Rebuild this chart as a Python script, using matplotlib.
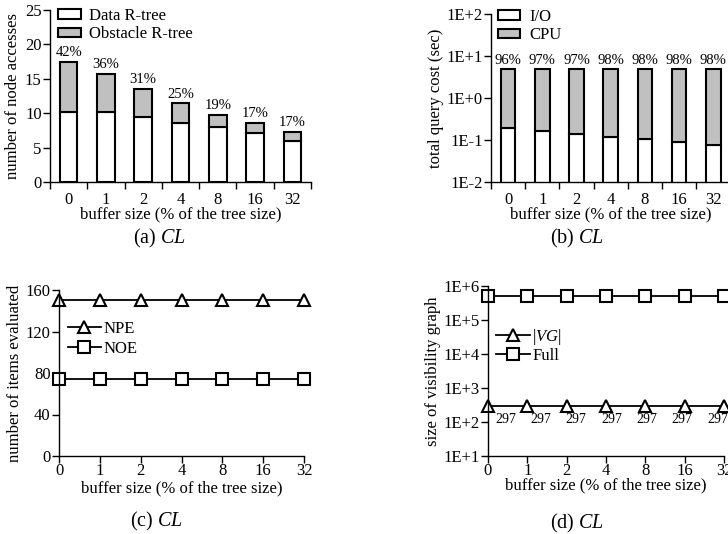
import matplotlib
matplotlib.use("Agg")
import matplotlib.pyplot as plt
import numpy as np

plt.rcParams['font.family'] = ['Liberation Serif', 'DejaVu Serif']
plt.rcParams['mathtext.fontset'] = 'custom'
plt.rcParams['mathtext.rm'] = 'Liberation Serif'
plt.rcParams['mathtext.it'] = 'Liberation Serif:italic'
plt.rcParams['axes.linewidth'] = 1.0

# ---- data ----
buffer_labels = ["0", "1", "2", "4", "8", "16", "32"]

# (a) node accesses
data_rtree = [10.16, 10.16, 9.43, 8.56, 8.03, 7.11, 5.89]
total_node = [17.5, 15.77, 13.54, 11.41, 9.77, 8.56, 7.34]
obst_pct = ["42%", "36%", "31%", "25%", "19%", "17%", "17%"]

# (b) total query cost (sec)
io_cost = [0.189, 0.163, 0.140, 0.119, 0.103, 0.089, 0.077]
total_cost = [5.0, 5.0, 5.0, 5.0, 5.0, 5.0, 5.0]
cpu_pct = ["96%", "97%", "97%", "98%", "98%", "98%", "98%"]

# (c) items evaluated
npe = [150, 150, 150, 150, 150, 150, 150]
noe = [74, 74, 74, 74, 74, 74, 74]

# (d) visibility graph size
vg_size = [297, 297, 297, 297, 297, 297, 297]
full_size = [5.1e5, 5.1e5, 5.1e5, 5.1e5, 5.1e5, 5.1e5, 5.1e5]

W, H = 728, 534
fig = plt.figure(figsize=(W / 100, H / 100), dpi=100)

def axes_px(l, t, r, b):
    return fig.add_axes([l / W, 1 - b / H, (r - l) / W, (b - t) / H])

FS = 12
GRAY = '#c0c0c0'
x = np.arange(len(buffer_labels))

def bar_axis_style(ax):
    ax.spines['top'].set_visible(False)
    ax.spines['right'].set_visible(False)
    ax.set_xlim(-0.5, len(buffer_labels) - 0.5)
    ax.set_xticks(x)
    ax.set_xticklabels(buffer_labels, fontsize=FS)
    ax.tick_params(axis='x', which='major', length=0, pad=7)
    ax.set_xticks(np.arange(-0.5, len(buffer_labels) + 0.5, 1), minor=True)
    ax.tick_params(axis='x', which='minor', length=5, direction='out', width=1)
    ax.tick_params(axis='y', which='major', length=5, direction='out', width=1, labelsize=FS, pad=1)
    ax.set_xlabel("buffer size (% of the tree size)", fontsize=FS, labelpad=-1)

# ---- (a) ----
ax1 = axes_px(50, 10, 311, 182)
obst = [t - d for t, d in zip(total_node, data_rtree)]
ax1.bar(x, data_rtree, width=0.47, color='white', edgecolor='black', linewidth=1.5, label='Data R-tree')
ax1.bar(x, obst, width=0.47, bottom=data_rtree, color=GRAY, edgecolor='black', linewidth=1.5, label='Obstacle R-tree')
for xi, t, lab in zip(x, total_node, obst_pct):
    ax1.annotate(lab, (xi, t), xytext=(0, 2), textcoords='offset points', ha='center', va='bottom', fontsize=10.5)
ax1.set_ylim(0, 25)
ax1.set_yticks([0, 5, 10, 15, 20, 25])
bar_axis_style(ax1)
ax1.set_ylabel("number of node accesses", fontsize=FS, labelpad=3)
ax1.legend(loc='upper left', bbox_to_anchor=(0.03, 1.012), frameon=False, fontsize=FS,
           handlelength=1.4, handleheight=0.5, labelspacing=0.15, handletextpad=0.5,
           borderpad=0, borderaxespad=0)

# ---- (b) ----
ax2 = axes_px(491, 14, 730.4, 182)
cpu = [t - i for t, i in zip(total_cost, io_cost)]
ax2.set_yscale('log')
ax2.bar(x, io_cost, width=0.43, color='white', edgecolor='black', linewidth=1.5, label='I/O')
ax2.bar(x, cpu, width=0.43, bottom=io_cost, color=GRAY, edgecolor='black', linewidth=1.5, label='CPU')
for xi, t, lab in zip(x, total_cost, cpu_pct):
    ax2.annotate(lab, (xi, t), xytext=(0, 1.5), textcoords='offset points', ha='center', va='bottom', fontsize=10.5)
ax2.set_ylim(1e-2, 1e2)
ax2.set_yticks([1e-2, 1e-1, 1e0, 1e1, 1e2])
ax2.set_yticklabels(["1E-2", "1E-1", "1E+0", "1E+1", "1E+2"])
ax2.yaxis.set_minor_locator(matplotlib.ticker.NullLocator())
bar_axis_style(ax2)
ax2.set_ylabel("total query cost (sec)", fontsize=FS, labelpad=2)
ax2.legend(loc='upper left', bbox_to_anchor=(0.03, 1.03), frameon=False, fontsize=FS,
           handlelength=1.3, handleheight=0.5, labelspacing=0.15, handletextpad=0.6,
           borderpad=0, borderaxespad=0)

def line_axis_style(ax, lpad):
    ax.spines['top'].set_visible(False)
    ax.spines['right'].set_visible(False)
    ax.set_xlim(0, len(buffer_labels) - 1)
    ax.set_xticks(x)
    ax.set_xticklabels(buffer_labels, fontsize=FS)
    ax.tick_params(axis='x', which='major', length=5, direction='out', width=1, pad=0)
    ax.tick_params(axis='y', which='major', length=5, direction='out', width=1, labelsize=FS, pad=1)
    ax.set_xlabel("buffer size (% of the tree size)", fontsize=FS, labelpad=lpad)

mk = dict(color='black', linewidth=1.3, markersize=9, markerfacecolor='white',
          markeredgecolor='black', markeredgewidth=1.5, clip_on=False)

# ---- (c) ----
ax3 = axes_px(59, 290, 304, 456)
ax3.plot(x, npe, marker='^', label='NPE', **mk)
ax3.plot(x, noe, marker='s', label='NOE', **mk)
ax3.set_ylim(0, 160)
ax3.set_yticks([0, 40, 80, 120, 160])
line_axis_style(ax3, 1)
ax3.set_ylabel("number of items evaluated", fontsize=FS, labelpad=2)
ax3.legend(loc='upper left', bbox_to_anchor=(0.035, 0.812), frameon=False, fontsize=FS,
           handlelength=2.0, labelspacing=0.2, handletextpad=0.15,
           borderpad=0, borderaxespad=0)

# ---- (d) ----
ax4 = axes_px(488, 286, 724, 456)
ax4.set_yscale('log')
ax4.plot(x, vg_size, marker='^', label=r'|$\mathit{VG}$|', **mk)
ax4.plot(x, full_size, marker='s', label='Full', **mk)
# value labels sit on an evenly spaced row slightly narrower than the point spacing
label_step = 35.3 / (236 / 6)
for i, v in enumerate(vg_size):
    ax4.annotate(str(v), ((i + 0.5) * label_step, v), xytext=(0, -10), textcoords='offset points',
                 ha='center', va='center', fontsize=10, annotation_clip=False)
ax4.set_ylim(1e1, 1e6)
ax4.set_yticks([1e1, 1e2, 1e3, 1e4, 1e5, 1e6])
ax4.set_yticklabels(["1E+1", "1E+2", "1E+3", "1E+4", "1E+5", "1E+6"])
ax4.yaxis.set_minor_locator(matplotlib.ticker.NullLocator())
line_axis_style(ax4, -1)
ax4.set_ylabel("size of visibility graph", fontsize=FS, labelpad=2)
ax4.legend(loc='upper left', bbox_to_anchor=(0.035, 0.76), frameon=False, fontsize=FS,
           handlelength=2.0, labelspacing=0.08, handletextpad=0.15,
           borderpad=0, borderaxespad=0)

# ---- captions ----
CF = 14.5
fig.text(160 / W, 1 - 238 / H, r"(a) $\mathit{CL}$", ha='center', va='center', fontsize=CF)
fig.text(577 / W, 1 - 238 / H, r"(b) $\mathit{CL}$", ha='center', va='center', fontsize=CF)
fig.text(157 / W, 1 - 521 / H, r"(c) $\mathit{CL}$", ha='center', va='center', fontsize=CF)
fig.text(577 / W, 1 - 523 / H, r"(d) $\mathit{CL}$", ha='center', va='center', fontsize=CF)

fig.savefig("out.png", dpi=100)
